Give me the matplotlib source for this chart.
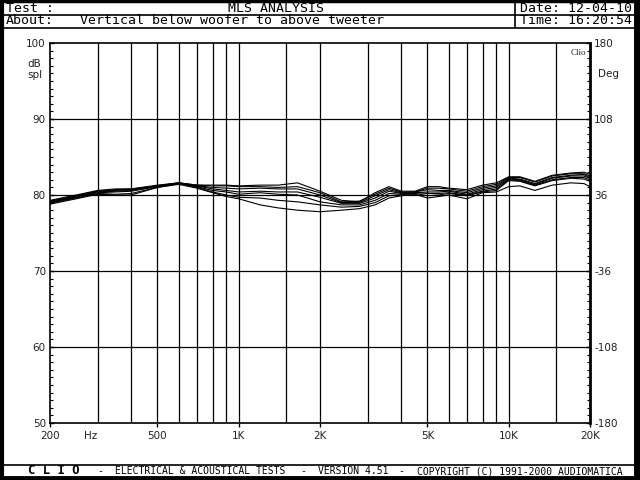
import matplotlib
matplotlib.use("Agg")
import matplotlib.pyplot as plt
from matplotlib.lines import Line2D
from matplotlib.ticker import FixedLocator, NullFormatter

plt.rcParams["axes.unicode_minus"] = False

# ---------------- data ----------------
freqs = [200, 250, 300, 350, 400, 500, 600, 700, 800, 900, 1000, 1200, 1400, 1650,
         2000, 2400, 2800, 3200, 3600, 4000, 4500, 5000, 5500, 6000, 7000, 8000,
         9000, 10000, 11000, 12500, 14500, 17000, 19000, 20000]

curve_a = [79.3, 80.0, 80.6, 80.8, 80.8, 81.3, 81.6, 81.3, 81.3, 81.3, 81.2, 81.3, 81.3, 81.6,
           80.5, 79.3, 79.1, 80.3, 81.1, 80.5, 80.5, 81.1, 81.1, 80.9, 80.7, 81.3,
           81.6, 82.4, 82.4, 81.8, 82.6, 82.9, 83.0, 82.7]
curve_b = [79.2, 79.9, 80.5, 80.7, 80.8, 81.2, 81.6, 81.3, 81.2, 81.2, 81.1, 81.1, 81.0, 81.1,
           80.3, 79.1, 79.2, 80.1, 80.9, 80.4, 80.4, 80.9, 80.9, 80.8, 80.5, 81.1,
           81.4, 82.3, 82.3, 81.7, 82.5, 82.8, 82.8, 82.5]
curve_c = [79.1, 79.8, 80.5, 80.6, 80.7, 81.2, 81.6, 81.2, 81.0, 80.9, 80.8, 80.9, 80.8, 80.8,
           80.0, 79.0, 79.0, 79.9, 80.7, 80.3, 80.4, 80.7, 80.6, 80.6, 80.3, 80.9,
           81.2, 82.2, 82.1, 81.5, 82.3, 82.6, 82.7, 82.3]
curve_d = [79.1, 79.8, 80.4, 80.5, 80.6, 81.1, 81.5, 81.2, 80.8, 80.6, 80.4, 80.5, 80.4, 80.4,
           79.7, 78.9, 78.9, 79.6, 80.5, 80.2, 80.3, 80.4, 80.4, 80.5, 80.1, 80.7,
           81.0, 82.1, 82.0, 81.4, 82.2, 82.5, 82.5, 82.2]
curve_e = [79.0, 79.7, 80.3, 80.4, 80.5, 81.1, 81.5, 81.1, 80.6, 80.4, 80.1, 80.3, 80.1, 80.0,
           79.1, 78.7, 78.7, 79.3, 80.2, 80.1, 80.3, 80.2, 80.2, 80.3, 80.0, 80.5,
           80.8, 82.0, 81.9, 81.3, 82.0, 82.3, 82.3, 82.0]
curve_f = [78.9, 79.6, 80.2, 80.1, 80.2, 81.0, 81.5, 81.0, 80.4, 80.0, 79.7, 79.6, 79.3, 79.1,
           78.7, 78.4, 78.5, 79.0, 79.9, 80.0, 80.2, 79.9, 80.0, 80.2, 79.9, 80.4,
           80.6, 81.9, 81.8, 81.2, 81.9, 82.2, 82.1, 81.8]
curve_g = [78.8, 79.5, 80.1, 80.0, 80.0, 81.0, 81.4, 80.9, 80.3, 79.8, 79.5, 78.7, 78.3, 78.0,
           77.8, 78.0, 78.2, 78.7, 79.6, 79.9, 80.1, 79.6, 79.8, 80.0, 79.5, 80.3,
           80.4, 81.1, 81.2, 80.6, 81.3, 81.6, 81.5, 81.1]
curves = [curve_a, curve_b, curve_c, curve_d, curve_e, curve_f, curve_g]

grid_freqs = [300, 400, 500, 600, 700, 800, 900, 1000, 1500, 2000, 3000, 4000, 5000,
              6000, 7000, 8000, 9000, 10000, 15000]
label_freqs = [200, 500, 1000, 2000, 5000, 10000, 20000]
label_texts = ["200", "500", "1K", "2K", "5K", "10K", "20K"]
db_ticks = [50, 60, 70, 80, 90, 100]
deg_ticks = [-180, -108, -36, 36, 108, 180]

title = "MLS ANALYSIS"
about = "Vertical below woofer to above tweeter"
date_txt = "Date: 12-04-10"
time_txt = "Time: 16:20:54"

# ---------------- figure ----------------
W, H = 640, 480
fig = plt.figure(figsize=(6.4, 4.8), dpi=100)
fig.patch.set_facecolor("white")

def fx(x):
    return x / W

def fy(y):
    return 1 - y / H

def hline(y, x0, x1, lw=1.0):
    fig.add_artist(Line2D([fx(x0), fx(x1)], [fy(y), fy(y)], color="black", lw=lw,
                          transform=fig.transFigure, solid_capstyle="butt"))

def vline(x, y0, y1, lw=1.0):
    fig.add_artist(Line2D([fx(x), fx(x)], [fy(y0), fy(y1)], color="black", lw=lw,
                          transform=fig.transFigure, solid_capstyle="butt"))

mono = "DejaVu Sans Mono"
hsize = 9.5

# outer frame
hline(1, 0, 640, lw=2.5)
hline(478, 0, 640, lw=3.5)
vline(1.5, 0, 480, lw=3)
vline(636.5, 0, 480, lw=5)
# header
hline(14.5, 3, 634, lw=1.2)
hline(27.5, 3, 634, lw=1.2)
vline(515, 1, 27.5, lw=1.2)
# footer
hline(464.5, 3, 634, lw=1.2)

fig.text(fx(6), fy(8), "Test :", family=mono, fontsize=hsize, va="center", ha="left")
fig.text(fx(276), fy(8), title, family=mono, fontsize=hsize, va="center", ha="center")
fig.text(fx(6), fy(21), "About:", family=mono, fontsize=hsize, va="center", ha="left")
fig.text(fx(80), fy(21), about, family=mono, fontsize=hsize, va="center", ha="left")
fig.text(fx(520), fy(8), date_txt, family=mono, fontsize=hsize, va="center", ha="left")
fig.text(fx(520), fy(21), time_txt, family=mono, fontsize=hsize, va="center", ha="left")

fy_footer = fy(471)
fig.text(fx(28), fy_footer, "C L I O", family=mono, fontsize=8.8, weight="bold", va="center", ha="left")
fig.text(fx(100), fy_footer, "-", family=mono, fontsize=7, va="center", ha="center")
fig.text(fx(115), fy_footer, "ELECTRICAL & ACOUSTICAL TESTS", family=mono, fontsize=7, va="center", ha="left")
fig.text(fx(303), fy_footer, "-", family=mono, fontsize=7, va="center", ha="center")
fig.text(fx(318), fy_footer, "VERSION 4.51", family=mono, fontsize=7, va="center", ha="left")
fig.text(fx(401), fy_footer, "-", family=mono, fontsize=7, va="center", ha="center")
fig.text(fx(417), fy_footer, "COPYRIGHT (C) 1991-2000 AUDIOMATICA", family=mono, fontsize=7, va="center", ha="left")

# ---------------- axes ----------------
ax = fig.add_axes([fx(50), fy(423), fx(590) - fx(50), fy(43) - fy(423)])
ax.set_xscale("log")
ax.set_xlim(200, 20000)
ax.set_ylim(50, 100)

for f in grid_freqs:
    ax.axvline(f, color="black", lw=0.9, zorder=1)
for d in db_ticks[1:-1]:
    ax.axhline(d, color="black", lw=0.9, zorder=1)

for c in curves:
    ax.plot(freqs, c, color="black", lw=0.8, zorder=3)

for sp in ["left", "bottom", "top"]:
    ax.spines[sp].set_linewidth(1.2)
ax.spines["right"].set_linewidth(2.0)

ax.xaxis.set_major_locator(FixedLocator(label_freqs))
ax.xaxis.set_minor_locator(FixedLocator([]))
ax.set_xticklabels([])
ax.tick_params(axis="x", which="major", direction="out", length=3, width=1, color="black")
ax.set_yticks(db_ticks)
ax.set_yticks(list(range(50, 101)), minor=True)
ax.yaxis.set_minor_formatter(NullFormatter())
ax.tick_params(axis="y", which="major", direction="in", length=3, width=1,
               labelsize=7.5, pad=3, labelcolor="#222222")
ax.tick_params(axis="y", which="minor", direction="in", length=2.5, width=0.8)

tick_font = dict(fontsize=7.5, color="#222222")
for f, t in zip(label_freqs, label_texts):
    ax.text(f, -0.022, t, transform=ax.get_xaxis_transform(), ha="center", va="top", **tick_font)
ax.text(300, -0.022, "Hz", transform=ax.get_xaxis_transform(), ha="right", va="top", **tick_font)

ax2 = ax.twinx()
ax2.set_ylim(-180, 180)
ax2.set_yticks(deg_ticks)
ax2.set_yticks([-180 + 7.2 * i for i in range(51)], minor=True)
ax2.yaxis.set_minor_formatter(NullFormatter())
ax2.tick_params(axis="y", which="major", direction="in", length=3, width=1,
                labelsize=7.5, pad=3, labelcolor="#222222")
ax2.tick_params(axis="y", which="minor", direction="in", length=2.5, width=0.8)
for sp in ax2.spines.values():
    sp.set_visible(False)

fig.text(fx(27), fy(64), "dB", fontsize=7.5, color="#222222", ha="left", va="center")
fig.text(fx(27), fy(75), "spl", fontsize=7.5, color="#222222", ha="left", va="center")
fig.text(fx(598), fy(74), "Deg", fontsize=7.5, color="#222222", ha="left", va="center")
ax.text(0.992, 0.985, "Clio", transform=ax.transAxes, fontsize=6.5, family="Liberation Serif",
        ha="right", va="top", color="#222222")

fig.savefig("out.png", dpi=100, facecolor="white")
